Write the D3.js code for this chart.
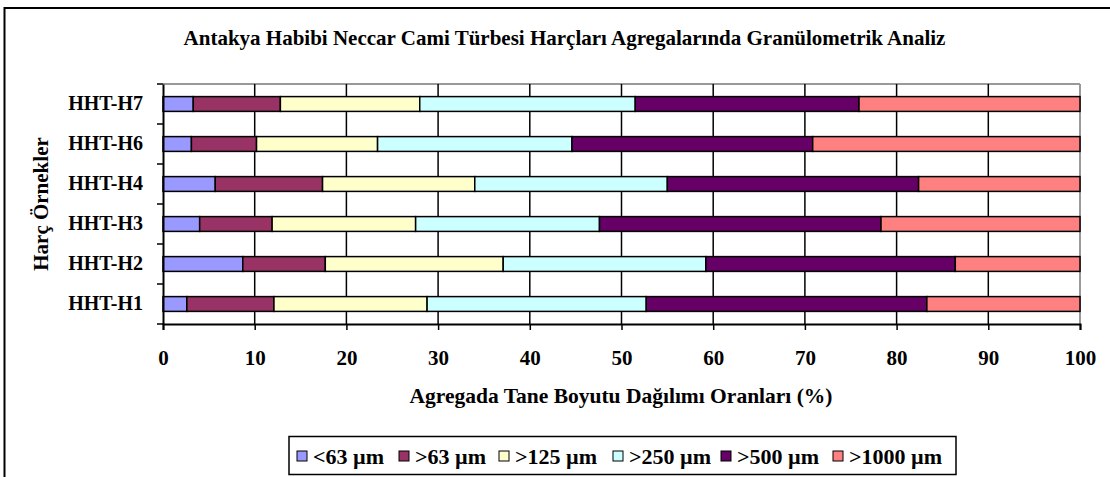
<!DOCTYPE html>
<html><head><meta charset="utf-8">
<script src="https://cdn.jsdelivr.net/npm/d3@7"></script>
<style>body{margin:0;background:#fff}svg{display:block}text{font-family:"Liberation Serif","Times New Roman",serif;font-weight:bold;fill:#000}</style>
</head><body><svg id="c" width="1110" height="477"></svg>
<script>
const categories = ["HHT-H1","HHT-H2","HHT-H3","HHT-H4","HHT-H6","HHT-H7"];
const seriesNames = ["<63 µm",">63 µm",">125 µm",">250 µm",">500 µm",">1000 µm"];
const colors = ["#9999FF","#993366","#FFFFCC","#CCFFFF","#660066","#FF8080"];
const s63   = [2.6, 8.7, 4.0, 5.7, 3.1, 3.3];
const s63p  = [9.5, 9.0, 7.9, 11.7, 7.1, 9.5];
const s125  = [16.7, 19.4, 15.65, 16.6, 13.2, 15.2];
const s250  = [23.9, 22.1, 20.05, 21.0, 21.2, 23.5];
const s500  = [30.6, 27.2, 30.7, 27.4, 26.25, 24.4];
const s1000 = [16.7, 13.6, 21.7, 17.6, 29.15, 24.1];
const xTicks = [0,10,20,30,40,50,60,70,80,90,100];
const title = "Antakya Habibi Neccar Cami Türbesi Harçları Agregalarında Granülometrik Analiz";
const xTitle = "Agregada Tane Boyutu Dağılımı Oranları (%)";
const yTitle = "Harç Örnekler";

const seriesVals = [s63,s63p,s125,s250,s500,s1000];
const rows = categories.map((c,i)=>{const o={cat:c};seriesNames.forEach((k,j)=>o[k]=seriesVals[j][i]);return o;});
const stack = d3.stack().keys(seriesNames)(rows);

const svg = d3.select("#c");
const L=163,R=1080,T=84,B=324;
const x = d3.scaleLinear().domain([0,100]).range([L,R]);
const y = d3.scaleBand().domain(categories.slice().reverse()).range([T,B]).paddingInner(0.63).paddingOuter(0.315);
const yb = d3.scaleBand().domain(categories.slice().reverse()).range([T,B]);

// outer frame
svg.append("rect").attr("x",4.5).attr("y",8).attr("width",1200).attr("height",600).attr("fill","none").attr("stroke","#000").attr("stroke-width",2);

// plot borders
svg.append("line").attr("x1",L).attr("x2",R).attr("y1",T).attr("y2",T).attr("stroke","#999").attr("stroke-width",2);
svg.append("line").attr("x1",R).attr("x2",R).attr("y1",T).attr("y2",B).attr("stroke","#999").attr("stroke-width",2);
// grid
svg.append("g").selectAll("line").data(xTicks.filter(d=>d>0&&d<100)).join("line")
  .attr("x1",d=>x(d)).attr("x2",d=>x(d)).attr("y1",T).attr("y2",B).attr("stroke","#000").attr("stroke-width",1.5);

// bars
svg.append("g").selectAll("g").data(stack).join("g").attr("fill",(d,i)=>colors[i])
  .selectAll("rect").data(d=>d).join("rect")
  .attr("x",d=>x(d[0])).attr("width",d=>x(d[1])-x(d[0]))
  .attr("y",d=>y(d.data.cat)).attr("height",y.bandwidth())
  .attr("stroke","#000").attr("stroke-width",1.5);

// x axis
const xa = svg.append("g").attr("transform",`translate(0,${B})`)
  .call(d3.axisBottom(x).tickValues(xTicks).tickSize(6).tickPadding(20).tickFormat(d3.format("d")));
xa.select(".domain").attr("stroke","#000").attr("stroke-width",2);
xa.selectAll(".tick line").attr("stroke","#000").attr("stroke-width",1.5);
xa.selectAll("text").style("font-size","21px").style("font-family","'Liberation Serif',serif").style("font-weight","bold");

// y axis
const ya = svg.append("g").attr("transform",`translate(${L},0)`)
  .call(d3.axisLeft(yb).tickSize(0).tickPadding(20));
ya.select(".domain").attr("stroke","#000").attr("stroke-width",2);
ya.selectAll("text").style("font-size","20px").style("font-family","'Liberation Serif',serif").style("font-weight","bold");
svg.append("g").selectAll("line").data(d3.range(categories.length+1)).join("line")
  .attr("x1",L-6).attr("x2",L).attr("y1",i=>T+i*yb.step()).attr("y2",i=>T+i*yb.step())
  .attr("stroke","#000").attr("stroke-width",1.5);

// titles
svg.append("text").attr("x",564.5).attr("y",45).attr("text-anchor","middle").style("font-size","21px").text(title);
svg.append("text").attr("x",621).attr("y",403).attr("text-anchor","middle").style("font-size","21.5px").text(xTitle);
svg.append("text").attr("transform","translate(48,204) rotate(-90)").attr("text-anchor","middle").style("font-size","21px").text(yTitle);

// legend
svg.append("rect").attr("x",289).attr("y",436.5).attr("width",667).attr("height",38).attr("fill","#fff").attr("stroke","#000").attr("stroke-width",1.5);
const lx=[297,399,499,613,721,833];
const lg = svg.append("g").selectAll("g").data(seriesNames).join("g").attr("transform",(d,i)=>`translate(${lx[i]},456)`);
lg.append("rect").attr("x",0).attr("y",-5).attr("width",10).attr("height",10).attr("fill",(d,i)=>colors[i]).attr("stroke","#000").attr("stroke-width",1);
lg.append("text").attr("x",16).attr("y",7.5).style("font-size","22px").text(d=>d);
</script></body></html>
